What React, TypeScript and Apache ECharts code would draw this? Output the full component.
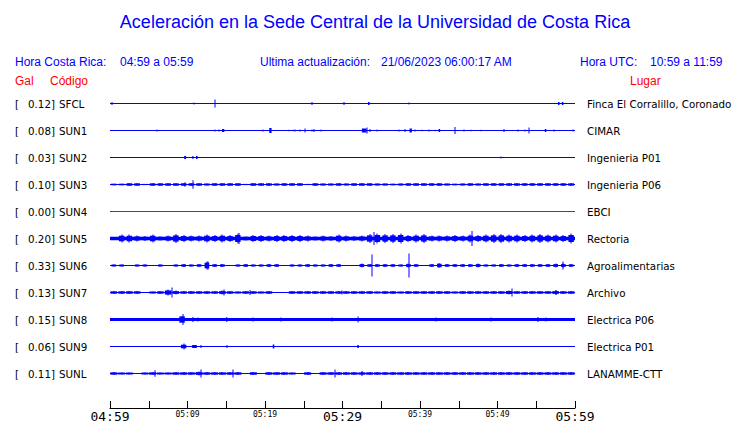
import React, { useEffect, useRef } from 'react';
import * as echarts from 'echarts';

const TITLE = 'Aceleración en la Sede Central de la Universidad de Costa Rica';
const HORA_CR = '04:59 a 05:59';
const HORA_UTC = '10:59 a 11:59';
const ACTUALIZACION = '21/06/2023 06:00:17 AM';

const CODES = ['SFCL', 'SUN1', 'SUN2', 'SUN3', 'SUN4', 'SUN5', 'SUN6', 'SUN7', 'SUN8', 'SUN9', 'SUNL'];
const PEAKS = [0.12, 0.08, 0.03, 0.1, 0.0, 0.2, 0.33, 0.13, 0.15, 0.06, 0.11];
const PLACES = [
  'Finca El Corralillo, Coronado', 'CIMAR', 'Ingenieria P01', 'Ingenieria P06', 'EBCI', 'Rectoria',
  'Agroalimentarias', 'Archivo', 'Electrica P06', 'Electrica P01', 'LANAMME-CTT',
];
const TIME_MINUTES = [0, 10, 20, 30, 40, 50, 60];
const TIME_LABELS = ['04:59', '05:09', '05:19', '05:29', '05:39', '05:49', '05:59'];

// amplitudes in counts (27 counts = spacing between traces)
const BASE_NOISE = [0.5, 0.5, 0.5, 0.5, 0.5, 1.7, 0.5, 0.5, 1.6, 0.5, 0.5];

// per-minute noise envelopes
const SUN3_ENV = [0.8, 0.8, 1.2, 1.2, 0.6, 1.2, 1.2, 1.2, 1.2, 1.4, 1.5, 1.2, 1.0, 1.2, 1.2, 1.2, 1.2, 0.6, 1.2, 1.2,
  1.2, 1.0, 1.2, 1.2, 1.2, 0.6, 1.2, 1.0, 1.0, 1.2, 1.0, 1.2, 1.2, 1.2, 1.0, 1.0, 0.8, 1.0, 1.2, 1.2,
  1.2, 1.2, 1.2, 1.0, 0.8, 1.0, 1.2, 1.0, 1.2, 1.2, 1.2, 1.2, 1.2, 1.2, 1.2, 1.2, 1.2, 1.2, 1.2, 1.2];
const SUN5_ENV = [1.7, 4, 4, 3, 2.5, 4, 2, 3, 4.5, 3.5, 3, 3, 4, 3.5, 4, 3.5, 5, 2, 3.5, 3.5,
  3, 3.5, 3.5, 3.5, 3.5, 3, 2, 3, 2.5, 4, 3, 2.5, 3, 4.5, 5, 4.5, 4.5, 5, 3.5, 4,
  4.5, 3, 3, 3, 3.5, 3, 4, 3.5, 4, 4.5, 4.5, 4, 4, 3.5, 4, 4.5, 4, 4, 3.5, 5];
const SUN6_ENV = [1, 1, 0, 1, 1, 0, 1, 0, 1, 1.5, 1, 1.5, 4, 1.5, 1.5, 0, 1, 1.5, 1, 1,
  1.5, 1.5, 0, 1, 1, 1.5, 1, 1, 1.5, 1.5, 0.5, 0, 2, 1.5, 1.5, 1.5, 1.5, 1, 2, 1.5,
  0.5, 1.5, 2.5, 1.5, 1.5, 1.5, 1.5, 2, 1, 1, 1.5, 1, 1.5, 1.5, 1.5, 1.5, 1.5, 2, 2, 1.5];
const SUN7_ENV = [1.5, 1.5, 1.5, 1.5, 0, 1, 1.5, 3, 2, 1.5, 1.5, 1.5, 1.5, 1.5, 2, 1.5, 1, 1.5, 1.5, 1,
  1.5, 0, 0.5, 1.5, 1.5, 1.5, 1.5, 1.5, 1.5, 1.5, 1.5, 1.5, 1.5, 1.5, 1, 1.5, 1.5, 1, 1.5, 1.5,
  1.5, 1.5, 1.5, 1.5, 1, 1.5, 1.5, 1.5, 1.5, 1.5, 1.5, 2, 1.5, 1.5, 1.5, 1.5, 1.5, 2, 1.5, 1.5];
const SUNL_ENV = [1.5, 1, 1, 0.5, 1, 1.5, 1, 1, 1.5, 1.5, 1.5, 2, 1.5, 1.5, 1.5, 1.5, 1.5, 0.5, 1.5, 0.5,
  1.5, 1.5, 1.5, 1, 0.3, 1.5, 0.5, 1.5, 1.5, 1.5, 1.5, 1.5, 1.5, 1.5, 1.5, 1.5, 1.5, 1.5, 1.5, 1.5,
  1.5, 1.5, 1.5, 1.5, 1.5, 1.5, 1.5, 1.5, 1.5, 1.5, 1.5, 1.5, 1.5, 1.5, 1.5, 1.5, 1.5, 1.5, 1.5, 1.5];
const ENVELOPES = [[], [], [], SUN3_ENV, [], SUN5_ENV, SUN6_ENV, SUN7_ENV, [], [], SUNL_ENV];

// discrete events: [minute, amplitude, duration in minutes]
const SFCL_EVENTS = [[0.3, 1.5, 0], [10.9, 1, 0], [13.6, 4, 0], [26.0, 1.5, 0], [30.2, 1.5, 0], [33.4, 1.5, 0.2],
  [38.6, 1, 0], [57.9, 1.5, 0.2], [58.4, 1.5, 0.2]];
const SUN1_EVENTS = [[6.1, 1, 0], [13.6, 1, 0], [14.0, 1, 0], [14.6, 1.5, 0.3], [19.8, 1, 0], [20.7, 2.5, 0.3],
  [23.1, 0.8, 0], [23.6, 0.8, 0], [23.9, 1, 0], [24.5, 1, 0], [25.1, 2, 0], [26.0, 1, 0], [26.3, 1.5, 0],
  [27.2, 1, 0], [32.8, 2, 0.6], [33.2, 3, 0], [33.6, 1.5, 0], [34.4, 1, 0], [37.3, 1, 0], [38.0, 1.5, 0],
  [38.8, 2, 0.3], [39.4, 1, 0], [40.2, 0.8, 0], [41.2, 1, 0], [41.9, 0.8, 0], [42.5, 1.5, 0.2], [44.5, 3.5, 0],
  [45.7, 1, 0], [46.6, 0.8, 0], [47.9, 0.8, 0], [50.9, 1.5, 0], [52.7, 1, 0], [53.5, 1, 0], [54.1, 3, 0],
  [56.2, 1.5, 0.2], [57.3, 1, 0], [59.8, 1, 0]];
const SUN2_EVENTS = [[9.7, 1.5, 0.25], [10.7, 1.5, 0.15], [11.2, 1.5, 0.2], [50.5, 1, 0]];
const SUN3_EVENTS = [[9.72, 2.3, 0], [10.75, 4.3, 0]];
const SUN4_EVENTS: number[][] = [];
const SUN5_EVENTS = [[16.6, 5.5, 0], [34.1, 6.5, 0], [46.7, 7.5, 0]];
const SUN6_EVENTS = [[12.7, 4, 0], [33.85, 11, 0], [38.6, 12, 0], [58.4, 4, 0]];
const SUN7_EVENTS = [[7.96, 5, 0], [14.75, 3, 0], [18.1, 2.5, 0], [29.9, 2, 0], [51.9, 4, 0], [57.5, 2.5, 0]];
const SUN8_EVENTS = [[9.46, 5.5, 0], [9.3, 3.2, 0.7], [10.75, 2.5, 0], [11.3, 2, 0], [15.05, 2.5, 0.1], [18.4, 2, 0],
  [22.1, 2, 0], [28.6, 2, 0], [32.0, 3, 0.1], [42.1, 2, 0], [49.2, 2, 0], [55.2, 2.5, 0.1], [56.2, 2, 0]];
const SUN9_EVENTS = [[9.5, 1.8, 0.7], [9.5, 3, 0], [10.9, 1.5, 0.6], [11.7, 1.5, 0], [15.05, 1.5, 0], [21.1, 2, 0.2],
  [32.0, 1.5, 0.2]];
const SUNL_EVENTS = [[5.8, 3.3, 0], [11.7, 4, 0], [15.9, 4, 0], [29.0, 4, 0], [32.5, 2.5, 0]];
const EVENTS = [SFCL_EVENTS, SUN1_EVENTS, SUN2_EVENTS, SUN3_EVENTS, SUN4_EVENTS, SUN5_EVENTS, SUN6_EVENTS,
  SUN7_EVENTS, SUN8_EVENTS, SUN9_EVENTS, SUNL_EVENTS];

const COUNTS_PER_ROW = 27;
const BLUE = '#0000ff';
const RED = '#ff0000';
const TRACE_COLORS = CODES.map((c) => (c === 'SUN4' ? RED : BLUE));
const FILL = [0.8, 0.8, 0.8, 0.75, 0.8, 0.7, 0.6, 0.85, 0.8, 0.8, 0.9];

const SANS = 'Liberation Sans, Arial, sans-serif';
const DEJAVU = 'DejaVu Sans, sans-serif';
const MONO = 'DejaVu Sans Mono, monospace';

function renderItem(params: any, api: any) {
  const i = params.dataIndex;
  const color = TRACE_COLORS[i];
  const c0 = api.coord([0, i]);
  const c1 = api.coord([60, i]);
  const yc = c0[1];
  const rowPx = api.coord([0, i + 1])[1] - yc;
  const px = (a: number) => (a * rowPx) / COUNTS_PER_ROW;
  const children: any[] = [];
  const rect = (x0: number, x1: number, half: number) =>
    children.push({ type: 'rect', shape: { x: x0, y: yc - half, width: Math.max(x1 - x0, 1), height: half * 2 }, style: { fill: color } });
  const spike = (x: number, half: number) => {
    const xr = Math.round(x);
    rect(xr - 0.5, xr + 0.5, half);
  };
  const base = Math.max(px(BASE_NOISE[i]), 0.5);
  rect(c0[0], c1[0], base);
  const env = ENVELOPES[i];
  const f = FILL[i];
  for (let m = 0; m < env.length; m++) {
    const v = px(env[m]);
    if (v <= base) continue;
    const xa = api.coord([m + (1 - f) / 2, i])[0];
    const xb = api.coord([m + 1 - (1 - f) / 2, i])[0];
    rect(xa, xb, Math.max(base, Math.min(v, Math.max(1.2, v * 0.7))));
    spike((xa + xb) / 2, v);
  }
  for (const [t, a, d] of EVENTS[i]) {
    if (d > 0) {
      rect(api.coord([t - d / 2, i])[0], api.coord([t + d / 2, i])[0], px(a));
    } else {
      spike(api.coord([t, i])[0], px(a));
    }
  }
  return { type: 'group', children };
}

const txt = (text: string, x: number, y: number, fill: string, size: number, family: string, align = 'left') => ({
  type: 'text', x, y, silent: true,
  style: { text, fill, fontSize: size, fontFamily: family, align, verticalAlign: 'middle' },
});

export default function App() {
  const ref = useRef<HTMLDivElement>(null);
  useEffect(() => {
    if (!ref.current) return;
    const chart = echarts.init(ref.current, undefined, { renderer: 'svg' });
    chart.setOption({
      animation: false,
      backgroundColor: '#ffffff',
      grid: [
        { left: 110, right: 165, top: 90, height: 297 },
        { left: 110, right: 165, top: 380, bottom: 15 },
      ],
      xAxis: [
        { gridIndex: 0, type: 'value', min: 0, max: 60, show: false },
        {
          gridIndex: 1, type: 'value', min: 0, max: 60, interval: 5,
          axisLine: { show: true, lineStyle: { color: '#000', width: 1 } },
          axisTick: { show: true, inside: true, length: 7, lineStyle: { color: '#000', width: 1 } },
          splitLine: { show: false },
          axisLabel: {
            margin: 2,
            showMinLabel: true,
            showMaxLabel: true,
            formatter: (v: number) => {
              const k = TIME_MINUTES.indexOf(v);
              if (k < 0) return '';
              return (v % 30 === 0 ? '{big|' : '{small|') + TIME_LABELS[k] + '}';
            },
            rich: {
              big: { fontSize: 13, fontFamily: MONO, color: '#000' },
              small: { fontSize: 8, fontFamily: MONO, color: '#000' },
            },
          },
        },
      ],
      yAxis: [
        {
          gridIndex: 0, type: 'category', data: CODES, inverse: true, position: 'left',
          axisLine: { show: false }, axisTick: { show: false }, splitLine: { show: false },
          axisLabel: {
            align: 'left', margin: 95, color: '#000', fontFamily: DEJAVU, fontSize: 10.3,
            formatter: (v: string, idx: number) => `{a|[}{b|${PEAKS[idx].toFixed(2)}]}{c|${v}}`,
            rich: {
              a: { width: 13, fontFamily: DEJAVU, fontSize: 10.3, color: '#000' },
              b: { fontFamily: DEJAVU, fontSize: 10.3, color: '#000' },
              c: { fontFamily: DEJAVU, fontSize: 10.3, color: '#000', padding: [0, 0, 0, 4] },
            },
          },
        },
        {
          gridIndex: 0, type: 'category', data: PLACES, inverse: true, position: 'right',
          axisLine: { show: false }, axisTick: { show: false }, splitLine: { show: false },
          axisLabel: { align: 'left', margin: 12, color: '#000', fontFamily: DEJAVU, fontSize: 10.3 },
        },
        { gridIndex: 0, type: 'value', min: -0.5, max: 10.5, inverse: true, show: false },
        { gridIndex: 1, type: 'value', min: 0, max: 1, show: false },
      ],
      graphic: [
        txt(TITLE, 375, 22, BLUE, 18, SANS, 'center'),
        txt('Hora Costa Rica:', 15, 61.5, BLUE, 12, SANS),
        txt(HORA_CR, 120, 61.5, BLUE, 12, SANS),
        txt('Ultima actualización:', 260, 61.5, BLUE, 12, SANS),
        txt(ACTUALIZACION, 381, 61.5, BLUE, 12, SANS),
        txt('Hora UTC:', 580, 61.5, BLUE, 12, SANS),
        txt(HORA_UTC, 650, 61.5, BLUE, 12, SANS),
        txt('Gal', 15, 80.5, RED, 12, SANS),
        txt('Código', 50, 80.5, RED, 12, SANS),
        txt('Lugar', 630, 80.5, RED, 12, SANS),
      ],
      series: [
        {
          type: 'custom',
          coordinateSystem: 'cartesian2d',
          xAxisIndex: 0,
          yAxisIndex: 2,
          clip: false,
          silent: true,
          data: CODES.map((_, i) => [0, i]),
          renderItem,
        },
      ],
    });
    return () => chart.dispose();
  }, []);
  return <div ref={ref} style={{ position: 'fixed', left: 0, top: 0, width: 740, height: 423 }} />;
}
